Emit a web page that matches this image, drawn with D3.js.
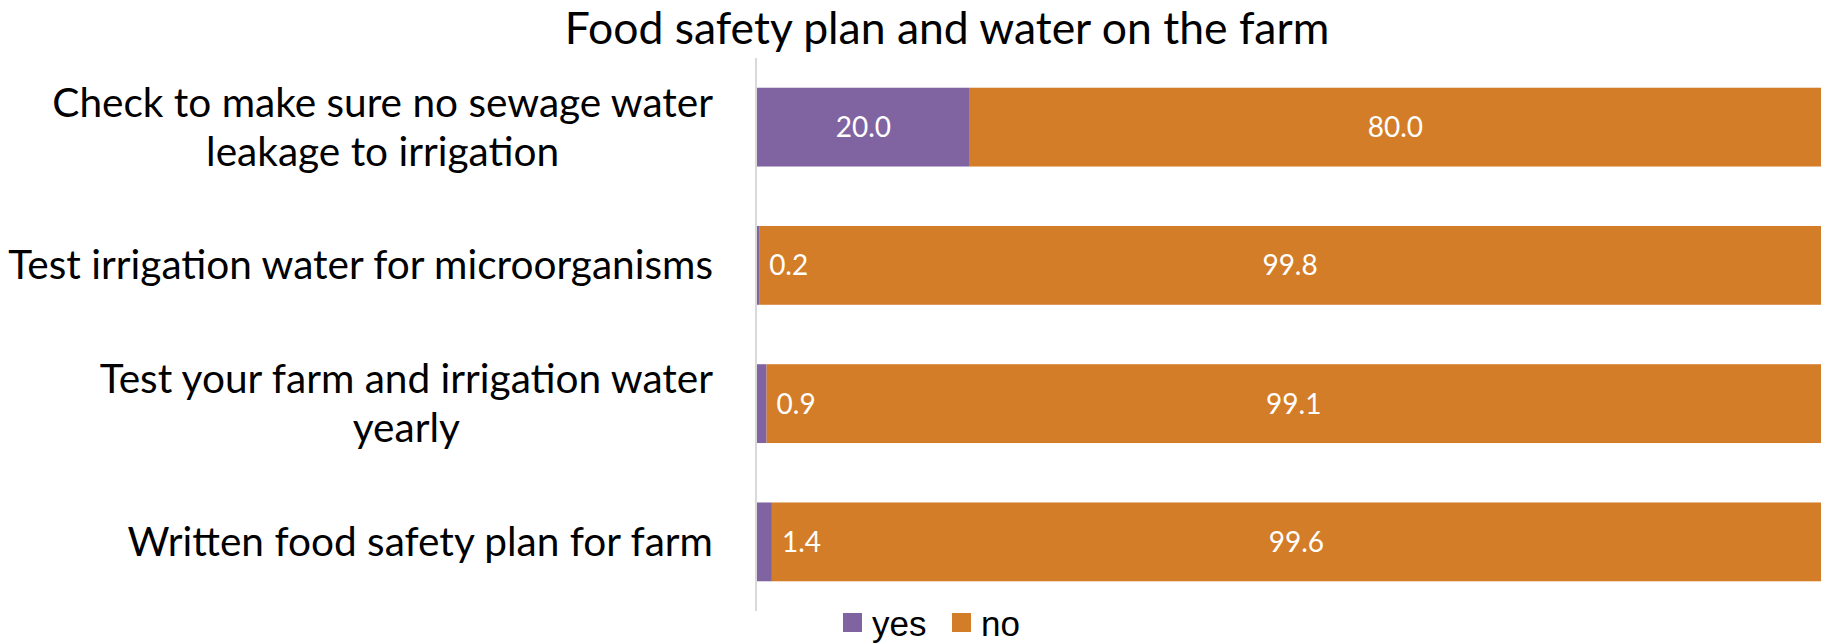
<!DOCTYPE html>
<html lang="en">
<head>
<meta charset="utf-8">
<script src="https://d3js.org/d3.v7.min.js"></script>
<style>
	body { margin: 0; background: #fff; }
	svg { display: block; background: #fff; }
	.cat-label { font-family: 'Lato', sans-serif; font-size: 40.6px; fill: #000; }
	.title { font-family: 'Lato', sans-serif; font-size: 44.5px; fill: #000; }
	.val { font-family: 'Lato', sans-serif; font-size: 28px; fill: #fff; }
	.legend-text { font-family: 'Liberation Sans', Arial, sans-serif; font-size: 35px; fill: #000; }
</style>
</head>
<body>
<div id="chart"></div>
<script>

var width = 1826, height = 643;

// chart data, top to bottom
var categories = [
	["Check to make sure no sewage water", "leakage to irrigation"],
	["Test irrigation water for microorganisms"],
	["Test your farm and irrigation water", "yearly"],
	["Written food safety plan for farm"]
];
var seriesNames = ["yes", "no"];
var yesValues = [20.0, 0.2, 0.9, 1.4];
var noValues = [80.0, 99.8, 99.1, 99.6];
var colors = ["#8064A2", "#D37D28"];

var titleText = "Food safety plan and water on the farm";

var svg = d3.select("#chart").append("svg")
	.attr("width", width)
	.attr("height", height);

var x = d3.scaleLinear()
	.domain([0, 100])
	.range([757, 1821]);

var y = d3.scaleBand()
	.domain(d3.range(categories.length))
	.range([58, 611])
	.paddingInner(0.43)
	.paddingOuter(0.215);

// stack the two series, clip at the axis max like the original
var rows = categories.map(function(c, i) {
	var segs = [];
	var start = 0;
	[yesValues[i], noValues[i]].forEach(function(v, k) {
		var a = Math.min(100, start), b = Math.min(100, start + v);
		segs.push({ row: i, series: k, value: v, x0: a, x1: b });
		start += v;
	});
	return segs;
});

svg.append("text")
	.attr("class", "title")
	.attr("x", 947)
	.attr("y", 44)
	.attr("text-anchor", "middle")
	.text(titleText);

var g = svg.append("g");

var segs = g.selectAll(".seg")
	.data(d3.merge(rows))
	.enter()
	.append("rect")
	.attr("class", "seg")
	.attr("x", function(d) { return x(d.x0); })
	.attr("y", function(d) { return y(d.row); })
	.attr("width", function(d) { return x(d.x1) - x(d.x0); })
	.attr("height", y.bandwidth())
	.style("fill", function(d) { return colors[d.series]; });

// value labels
g.selectAll(".val")
	.data(d3.merge(rows))
	.enter()
	.append("text")
	.attr("class", "val")
	.attr("x", function(d) {
		var w = x(d.x1) - x(d.x0);
		if (w < 40) return x(d.x1) + 10;
		return (x(d.x0) + x(d.x1)) / 2;
	})
	.attr("y", function(d) { return y(d.row) + y.bandwidth() / 2 + 10; })
	.attr("text-anchor", function(d) {
		return (x(d.x1) - x(d.x0)) < 40 ? "start" : "middle";
	})
	.text(function(d) { return d.value.toFixed(1); });

// vertical axis line
svg.append("line")
	.attr("x1", 756).attr("x2", 756)
	.attr("y1", 58).attr("y2", 611)
	.style("stroke", "#D9D9D9")
	.style("stroke-width", 2);

// category labels
var labels = svg.selectAll(".cat-label")
	.data(categories)
	.enter()
	.append("text")
	.attr("class", "cat-label")
	.attr("text-anchor", "middle")
	.attr("transform", function(d, i) {
		return "translate(0," + (y(i) + y.bandwidth() / 2) + ")";
	});

labels.selectAll("tspan")
	.data(function(d) { return d.map(function(t, k) { return { t: t, k: k, n: d.length }; }); })
	.enter()
	.append("tspan")
	.attr("y", function(d) { return 14 + (d.k - (d.n - 1) / 2) * 49; })
	.text(function(d) { return d.t; });

// right-align the block, centre each line within it (as in the original)
labels.each(function() {
	var tspans = d3.select(this).selectAll("tspan");
	var maxW = 0;
	tspans.each(function() { maxW = Math.max(maxW, this.getComputedTextLength()); });
	tspans.attr("x", 713 - maxW / 2);
});

// legend
var legend = svg.append("g");
var legendX = [843, 952];
seriesNames.forEach(function(name, k) {
	legend.append("rect")
		.attr("x", legendX[k])
		.attr("y", 613)
		.attr("width", 19)
		.attr("height", 19)
		.style("fill", colors[k]);
	legend.append("text")
		.attr("class", "legend-text")
		.attr("x", legendX[k] + 29)
		.attr("y", 636)
		.text(name);
});

</script>
</body>
</html>
